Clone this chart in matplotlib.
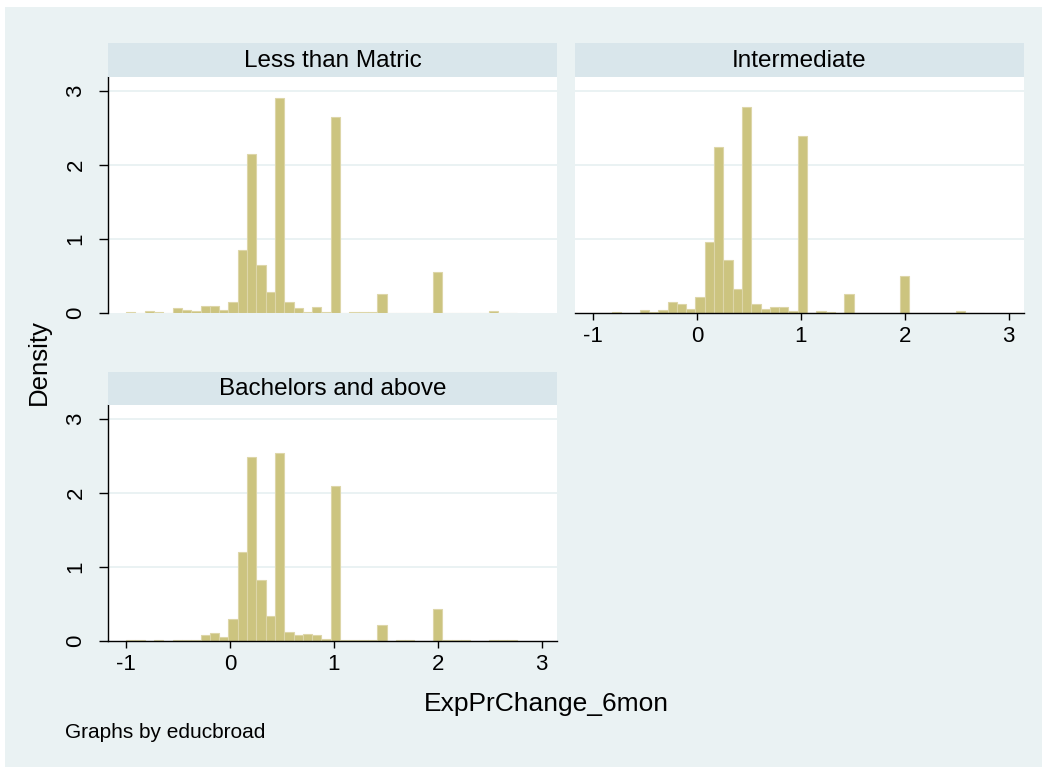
import numpy as np
import matplotlib
matplotlib.use("Agg")
import matplotlib.pyplot as plt
from matplotlib.patches import Rectangle

plt.rcParams['font.family'] = ['Liberation Sans', 'DejaVu Sans']

# histogram bins shared by all groups
bin_start = -1.0
bin_width = 0.0895

groups = ['Less than Matric', 'Intermediate', 'Bachelors and above']

dens_matric = [0.02, 0, 0.025, 0.012, 0, 0.072, 0.04, 0.03, 0.095, 0.095,
               0.04, 0.145, 0.858, 2.15, 0.655, 0.285, 2.91, 0.145, 0.072, 0.02,
               0.08, 0.01, 2.65, 0, 0.02, 0.008, 0.008, 0.253, 0, 0,
               0, 0, 0, 0.56, 0, 0, 0, 0, 0, 0.03,
               0, 0]
dens_inter = [0, 0, 0.01, 0.005, 0.005, 0.04, 0.01, 0.035, 0.145, 0.127,
              0.054, 0.221, 0.962, 2.25, 0.718, 0.325, 2.79, 0.122, 0.054, 0.077,
              0.077, 0.032, 2.39, 0, 0.03, 0.018, 0.005, 0.262, 0, 0.005,
              0.005, 0, 0, 0.50, 0, 0, 0, 0, 0.005, 0.022,
              0, 0]
dens_bach = [0.01, 0.01, 0, 0.01, 0, 0.01, 0.01, 0.018, 0.086, 0.104,
             0.054, 0.303, 1.207, 2.485, 0.822, 0.339, 2.544, 0.127, 0.086, 0.10,
             0.081, 0.023, 2.097, 0.01, 0.02, 0.01, 0.01, 0.217, 0, 0.01,
             0.01, 0, 0, 0.434, 0.01, 0.01, 0.01, 0, 0, 0.008,
             0.008, 0.008]

x_ticks = [-1, 0, 1, 2, 3]
y_ticks = [0, 1, 2, 3]

bg = '#EAF2F3'
strip_col = '#D9E6EB'
bar_face = '#CCC47F'
bar_edge = '#DDD6A8'

W, H = 1047, 773
fig = plt.figure(figsize=(W / 100, H / 100), dpi=100, facecolor='white')
fig.patches.append(Rectangle((5 / W, 1 - 767 / H), 1037 / W, 760 / H,
                             transform=fig.transFigure, facecolor=bg,
                             edgecolor='none', zorder=-10))


def px_axes(x0, y0, x1, y1):
    # pixel box (top-left origin) -> axes
    return fig.add_axes([x0 / W, 1 - y1 / H, (x1 - x0) / W, (y1 - y0) / H])


def strip(x0, y0, x1, y1, label):
    s = px_axes(x0, y0, x1, y1)
    s.set_facecolor(strip_col)
    s.set_xticks([])
    s.set_yticks([])
    for sp in s.spines.values():
        sp.set_visible(False)
    s.text(0.5, 0.47, label, ha='center', va='center', fontsize=17.5,
           transform=s.transAxes)


boxes = [(108, 77, 557, 313), (575, 77, 1024, 313), (108, 405, 557, 641)]
strips = [(108, 43, 557, 77), (575, 43, 1024, 77), (108, 372, 557, 405)]
show_y = [True, False, True]
show_x = [False, True, True]
data = [dens_matric, dens_inter, dens_bach]

for i in range(3):
    ax = px_axes(*boxes[i])
    strip(*strips[i], groups[i])
    vals = np.array(data[i])
    lefts = bin_start + np.arange(len(vals)) * bin_width
    ax.bar(lefts, vals, width=bin_width, align='edge', color=bar_face,
           edgecolor=bar_edge, linewidth=0.8, zorder=2)
    ax.set_xlim(-1.175, 3.147)
    ax.set_ylim(0, 3.19)
    for g in [1, 2, 3]:
        ax.axhline(g, color=bg, lw=1.4, zorder=1)
    ax.set_facecolor('white')
    for sp in ['top', 'right']:
        ax.spines[sp].set_visible(False)
    ax.spines['left'].set_visible(show_y[i])
    ax.spines['bottom'].set_visible(show_x[i])
    ax.spines['left'].set_linewidth(1.0)
    ax.spines['bottom'].set_linewidth(1.0)
    if show_y[i]:
        ax.set_yticks(y_ticks)
        ax.set_yticklabels([str(t) for t in y_ticks], rotation=90, va='center')
        ax.tick_params(axis='y', length=6.5, width=1.0, pad=9, labelsize=16)
    else:
        ax.set_yticks([])
    if show_x[i]:
        ax.set_xticks(x_ticks)
        ax.set_xticklabels([str(t) for t in x_ticks])
        ax.tick_params(axis='x', length=5, width=1.0, pad=4, labelsize=16)
    else:
        ax.set_xticks([])

fig.text(39 / W, 1 - 362 / H, 'Density', rotation=90, ha='center', va='center',
         fontsize=18.5)
fig.text(546 / W, 1 - 704 / H, 'ExpPrChange_6mon', ha='center', va='center',
         fontsize=19)
fig.text(65 / W, 1 - 733 / H, 'Graphs by educbroad', ha='left', va='center',
         fontsize=15)

fig.savefig('out.png', dpi=100, facecolor='white')
